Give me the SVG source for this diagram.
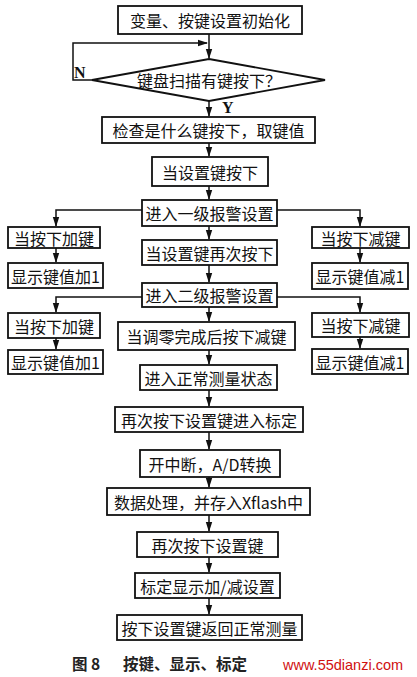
<svg xmlns="http://www.w3.org/2000/svg" width="417" height="677" viewBox="0 0 417 677">
<style>
.b{fill:#fff;stroke:#111;stroke-width:1.8}
.t{font-family:"Noto Sans CJK SC","Liberation Serif",sans-serif;font-size:16px;fill:#111;text-anchor:middle;dominant-baseline:central}
.l{font-family:"Liberation Serif",serif;font-size:16px;font-weight:bold;fill:#111}
.c{fill:none;stroke:#111;stroke-width:1.5}
.cap{font-family:"Noto Sans CJK SC",sans-serif;font-size:15.5px;font-weight:bold;fill:#222}
.wm{font-family:"Liberation Sans",sans-serif;font-size:14.5px;fill:#d01010}
</style>
<defs>
<marker id="a" markerWidth="10" markerHeight="8" refX="9" refY="4" orient="auto" markerUnits="userSpaceOnUse">
<path d="M0,0.8 L10,4 L0,7.2 Z" fill="#111"/>
</marker>
</defs>
<rect width="417" height="677" fill="#fff"/>
<g id="connectors">
<path class="c" d="M209,34 V58" marker-end="url(#a)"/>
<path class="c" d="M92,80 H73 V43 H207" marker-end="url(#a)"/>
<path class="c" d="M209,101 V116" marker-end="url(#a)"/>
<path class="c" d="M209,143 V156" marker-end="url(#a)"/>
<path class="c" d="M209,186 V199" marker-end="url(#a)"/>
<path class="c" d="M209,226 V239" marker-end="url(#a)"/>
<path class="c" d="M209,265 V282" marker-end="url(#a)"/>
<path class="c" d="M209,307 V321" marker-end="url(#a)"/>
<path class="c" d="M209,350 V364" marker-end="url(#a)"/>
<path class="c" d="M209,390 V406" marker-end="url(#a)"/>
<path class="c" d="M209,432 V449" marker-end="url(#a)"/>
<path class="c" d="M209,477 V487" marker-end="url(#a)"/>
<path class="c" d="M209,515 V531" marker-end="url(#a)"/>
<path class="c" d="M209,557 V572" marker-end="url(#a)"/>
<path class="c" d="M209,598 V614" marker-end="url(#a)"/>
<path class="c" d="M142,210 H56 V226" marker-end="url(#a)"/>
<path class="c" d="M277,210 H360 V226" marker-end="url(#a)"/>
<path class="c" d="M56,248 V262" marker-end="url(#a)"/>
<path class="c" d="M360,248 V262" marker-end="url(#a)"/>
<path class="c" d="M142,297 H56 V312" marker-end="url(#a)"/>
<path class="c" d="M277,297 H360 V312" marker-end="url(#a)"/>
<path class="c" d="M56,338 V349" marker-end="url(#a)"/>
<path class="c" d="M360,337 V348" marker-end="url(#a)"/>
<text class="l" x="74" y="78">N</text>
<text class="l" x="222" y="113">Y</text>
</g>
<g id="init"><rect class="b" x="118" y="6" width="184" height="28"/><text class="t" x="210" y="20">变量、按键设置初始化</text></g>
<g id="scan"><polygon class="b" points="209,59 325,80 209,101 92,80"/><text class="t" x="209" y="80">键盘扫描有键按下？</text></g>
<g id="check"><rect class="b" x="102" y="117" width="213" height="26"/><text class="t" x="208.5" y="130">检查是什么键按下，取键值</text></g>
<g id="setkey"><rect class="b" x="152" y="157" width="116" height="29"/><text class="t" x="210" y="171.5">当设置键按下</text></g>
<g id="alarm1"><rect class="b" x="142" y="200" width="135" height="26"/><text class="t" x="209.5" y="213">进入一级报警设置</text></g>
<g id="setagain"><rect class="b" x="142" y="240" width="135" height="25"/><text class="t" x="209.5" y="252.5">当设置键再次按下</text></g>
<g id="alarm2"><rect class="b" x="142" y="283" width="135" height="24"/><text class="t" x="209.5" y="295">进入二级报警设置</text></g>
<g id="zero"><rect class="b" x="118" y="322" width="177" height="28"/><text class="t" x="206.5" y="336">当调零完成后按下减键</text></g>
<g id="normal"><rect class="b" x="140" y="365" width="137" height="25"/><text class="t" x="208.5" y="377.5">进入正常测量状态</text></g>
<g id="calib"><rect class="b" x="115" y="407" width="188" height="25"/><text class="t" x="209" y="419.5">再次按下设置键进入标定</text></g>
<g id="ad"><rect class="b" x="140" y="450" width="140" height="27"/><text class="t" x="210" y="463.5">开中断，A/D转换</text></g>
<g id="data"><rect class="b" x="107" y="488" width="203" height="27"/><text class="t" x="208.5" y="501.5">数据处理，并存入Xflash中</text></g>
<g id="setagain2"><rect class="b" x="137" y="532" width="141" height="25"/><text class="t" x="207.5" y="544.5">再次按下设置键</text></g>
<g id="calibdisp"><rect class="b" x="135" y="573" width="145" height="25"/><text class="t" x="207.5" y="585.5">标定显示加/减设置</text></g>
<g id="return"><rect class="b" x="117" y="615" width="185" height="25"/><text class="t" x="209.5" y="627.5">按下设置键返回正常测量</text></g>
<g id="plus1"><rect class="b" x="8" y="227" width="92" height="21"/><text class="t" x="54" y="237.5">当按下加键</text></g>
<g id="inc1"><rect class="b" x="8" y="263" width="95" height="25"/><text class="t" x="55.5" y="275.5">显示键值加1</text></g>
<g id="minus1"><rect class="b" x="312" y="227" width="97" height="21"/><text class="t" x="360.5" y="237.5">当按下减键</text></g>
<g id="dec1"><rect class="b" x="312" y="263" width="96" height="26"/><text class="t" x="360" y="276">显示键值减1</text></g>
<g id="plus2"><rect class="b" x="8" y="313" width="92" height="25"/><text class="t" x="54" y="325.5">当按下加键</text></g>
<g id="inc2"><rect class="b" x="8" y="350" width="95" height="24"/><text class="t" x="55.5" y="362">显示键值加1</text></g>
<g id="minus2"><rect class="b" x="312" y="313" width="97" height="24"/><text class="t" x="360.5" y="325">当按下减键</text></g>
<g id="dec2"><rect class="b" x="312" y="349" width="96" height="25"/><text class="t" x="360" y="361.5">显示键值减1</text></g>
<g id="caption">
<text class="cap" x="72" y="670">图 8</text>
<text class="cap" x="123" y="670">按键、显示、标定</text>
<text class="wm" x="283" y="670">www.55dianzi.com</text>
</g>
</svg>
